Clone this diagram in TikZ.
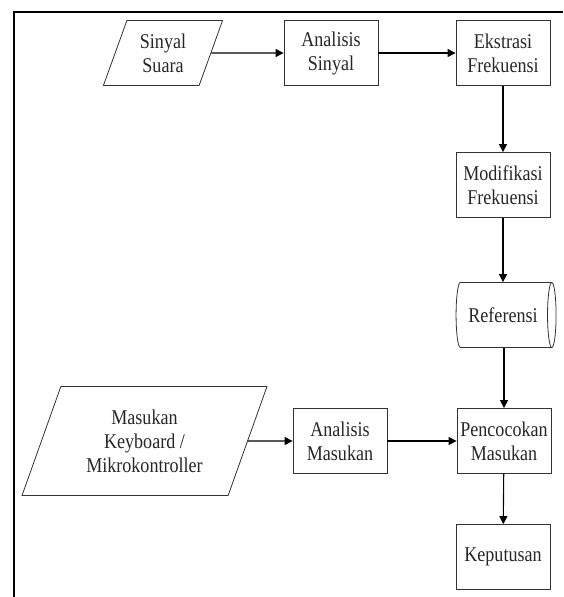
\documentclass[tikz,border=0pt]{standalone}
\usepackage{fontspec}
\setmainfont{Liberation Serif}[FakeStretch=0.86]
\usetikzlibrary{shapes.geometric, arrows.meta}
\usetikzlibrary{positioning}
\tikzstyle{arrow} = [line width=1.1pt, -{Triangle[length=8pt, width=8pt]}]

\begin{document}
\begin{tikzpicture}[x=1pt, y=-1pt,
    every node/.style={font=\fontsize{21}{24}\selectfont, align=center, text=black!85}]

    \tikzstyle{procbox}=[rectangle, draw=black!80, thick, minimum width=94pt, minimum height=65pt, inner sep=2pt]
    \tikzstyle{iobox}=[trapezium, trapezium stretches=true, draw=black!80, thick, inner sep=1pt]
    \tikzstyle{storebox}=[cylinder, shape aspect=0.45, draw=black!80, thick, minimum width=65pt, minimum height=100pt, inner sep=2pt]

    \useasboundingbox (0,0) rectangle (563,597);

    % frame
    \coordinate (fbot) at (14,597);
    \coordinate (fcorner) at (14,12);
    \coordinate (fright) at (563,12);
    \draw[line width=2.6pt] (fbot) -- (fcorner) -- (fright);

    % upper row
    \node[iobox, trapezium left angle=69, trapezium right angle=111,
          minimum width=120pt, minimum height=65pt] (suara) at (163,53) {Sinyal\\Suara};
    \node[procbox] (anasinyal) at (331,53) {Analisis\\Sinyal};
    \node[procbox] (ekstrak) at (503,53) {Ekstrasi\\Frekuensi};

    % right column
    \node[procbox] (modif) at (503,185) {Modifikasi\\Frekuensi};
    \node[storebox] (ref) at (503,315) {Referensi};
    \node[procbox] (cocok) at (504,441) {Pencocokan\\Masukan};
    \node[procbox] (putus) at (503,557) {Keputusan};

    % lower row
    \node[iobox, trapezium left angle=67, trapezium right angle=113,
          minimum width=245pt, minimum height=109pt] (masukan) at (144.5,441) {Masukan\\Keyboard /\\Mikrokontroller};
    \node[procbox] (anamasuk) at (340,441) {Analisis\\Masukan};

    \draw[arrow] (suara) -- (anasinyal);
    \draw[arrow] (anasinyal) -- (ekstrak);
    \draw[arrow] (ekstrak) -- (modif);
    \draw[arrow] (modif) -- (modif |- ref.north);
    \draw[arrow] (cocok |- ref.south) -- (cocok);
    \draw[arrow] (cocok) -- (putus);
    \draw[arrow] (masukan) -- (anamasuk);
    \draw[arrow] (anamasuk) -- (cocok);

\end{tikzpicture}
\end{document}
